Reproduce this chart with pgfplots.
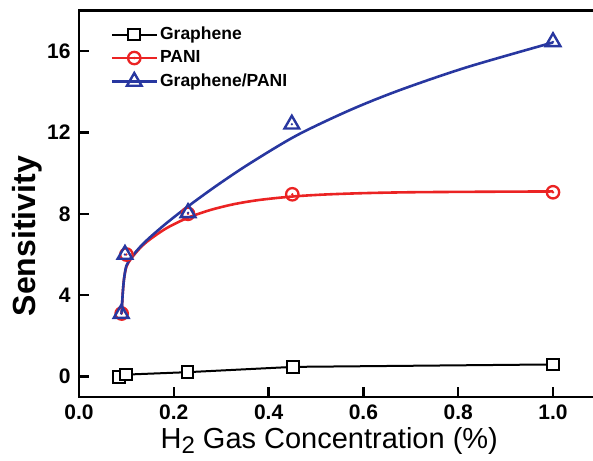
\documentclass[border=0pt]{standalone}
\usepackage{fontspec}
\setmainfont{Liberation Sans}
\usepackage{pgfplots}
\pgfplotsset{compat=1.18}
\definecolor{pblue}{RGB}{40,55,160}
\definecolor{pred}{RGB}{235,35,35}
\pgfdeclareplotmark{tridot}{\pgfuseplotmark{triangle}\pgfpathcircle{\pgfpointorigin}{1.3bp}\pgfusepathqfill}
\pgfdeclareplotmark{circdot}{\pgfuseplotmark{o}\pgfpathcircle{\pgfpointorigin}{1.3bp}\pgfusepathqfill}
\begin{document}
\begin{tikzpicture}
\begin{axis}[
  scale only axis, width=521.4bp, height=386.7bp,
  xmin=0, xmax=1.1, ymin=-1, ymax=18,
  axis line style={line width=2.8bp},
  xtick={0,0.2,0.4,0.6,0.8,1.0}, ytick={0,4,8,12,16},
  xtick pos=bottom, ytick pos=left,
  tick align=inside, major tick length=10bp,
  tick style={line width=2.4bp, black},
  /pgf/number format/assume math mode=true,
  xticklabel style={/pgf/number format/.cd, fixed, fixed zerofill, precision=1, /tikz/.cd, yshift=-4bp},
  ticklabel style={font=\bfseries\fontsize{21bp}{21bp}\selectfont},
  yticklabel style={/pgf/number format/.cd, fixed, precision=0, /tikz/.cd, xshift=-5bp},
  ylabel={\bfseries Sensitivity},
  ylabel style={font=\fontsize{32bp}{32bp}\selectfont, at={(ticklabel cs:0.416)}, yshift=-2bp},
  xlabel={H\raisebox{-5bp}{\fontsize{24bp}{24bp}\selectfont 2} Gas Concentration (\%)},
  xlabel style={font=\fontsize{29bp}{29bp}\selectfont, at={(ticklabel cs:0.48)}, yshift=-1bp},
  legend style={at={(rel axis cs:0.06,0.965)}, anchor=north west, draw=none, fill=none,
    inner sep=0pt, row sep=2.5bp,
    font=\bfseries\fontsize{17.5bp}{17.5bp}\selectfont,
    nodes={inner sep=2bp, text height=13bp, text depth=4bp}},
  legend cell align=left,
]
\addplot[black, line width=2bp, mark=square*, mark size=5.8bp, mark options={fill=white, line width=2bp},
  legend image code/.code={\draw[black,line width=2bp](0bp,0bp)--(45bp,0bp);
  \draw[black,line width=2bp,fill=white] plot[mark=square*, mark size=5.8bp] coordinates {(22.5bp,0bp)};}]
  coordinates {(0.085,-0.02) (0.099,0.1) (0.229,0.22) (0.452,0.48) (1.0,0.6)};
\addlegendentry{Graphene}
\addplot[pred, line width=2.6bp, smooth, tension=0.5,
  legend image code/.code={\draw[pred,line width=2.6bp](0bp,0bp)--(45bp,0bp);
  \draw[pred,line width=2.3bp,fill=pred] plot[mark=circdot, mark size=6.2bp] coordinates {(22.5bp,0bp)};}]
  coordinates {(0.09,3.1) (0.092,4.0) (0.095,4.8) (0.1,5.4) (0.11,5.8) (0.13,6.35) (0.15,6.75) (0.185,7.3) (0.229,7.8) (0.276,8.18) (0.326,8.47) (0.38,8.68) (0.45,8.85) (0.52,8.95) (0.607,9.02) (0.7,9.06) (0.818,9.08) (1.0,9.1)};
\addlegendentry{PANI}
\addplot[pred, only marks, mark=circdot, mark size=6.2bp, mark options={line width=2.3bp, fill=pred}, forget plot]
  coordinates {(0.09,3.1) (0.1,6.0) (0.23,8.0) (0.45,8.96) (1.0,9.06)};
\addplot[pblue, line width=2.6bp, smooth, tension=0.5,
  legend image code/.code={\draw[pblue,line width=2.6bp](0bp,0bp)--(45bp,0bp);
  \draw[pblue,line width=2.4bp,fill=pblue] plot[mark=tridot, mark size=8.5bp] coordinates {(22.5bp,0bp)};}]
  coordinates {(0.09,3.1) (0.092,4.0) (0.095,4.8) (0.1,5.45) (0.11,5.85) (0.13,6.4) (0.15,6.85) (0.185,7.55) (0.229,8.35) (0.29,9.38) (0.36,10.47) (0.459,11.85) (0.572,13.1) (0.677,14.08) (0.818,15.2) (1.0,16.42)};
\addlegendentry{Graphene/PANI}
\addplot[pblue, only marks, mark=tridot, mark size=8.5bp, mark options={line width=2.4bp, fill=pblue}, forget plot]
  coordinates {(0.089,3.1) (0.097,6.0) (0.23,8.05) (0.449,12.4) (1.0,16.45)};
\end{axis}
\pgfresetboundingbox
\path[use as bounding box] (-79bp,-64bp) rectangle (514bp,397bp);
\end{tikzpicture}
\end{document}
